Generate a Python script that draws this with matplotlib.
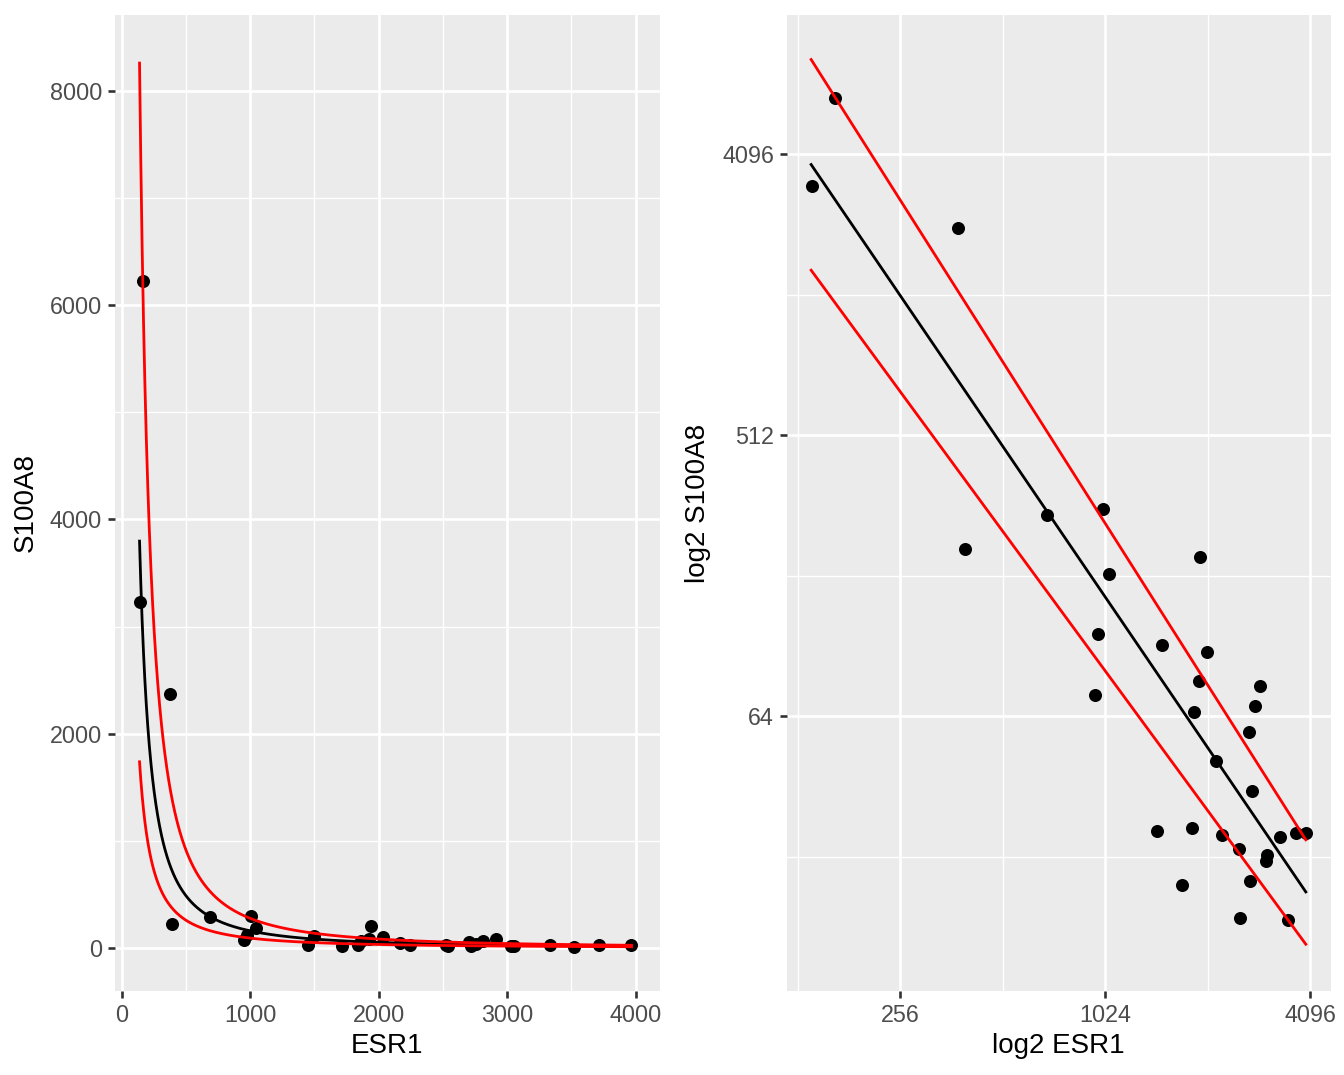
import numpy as np
import matplotlib
matplotlib.use("Agg")
import matplotlib.pyplot as plt
from matplotlib.ticker import FixedLocator, FixedFormatter, NullFormatter

plt.rcParams['font.family'] = ['Liberation Sans', 'DejaVu Sans']

# ---- data ----
esr1 = [164, 141, 377, 396, 688, 1006, 1048, 1942, 977, 1497, 2035, 1928,
        951, 1864, 2912, 2815, 2704, 2163, 2760, 1451, 1839, 2246, 2527,
        3055, 3034, 3337, 3718, 3968, 1719, 2721, 2544, 3521]
s100a8 = [6226, 3232, 2374, 221, 285, 296, 184, 209, 118, 109, 103, 83,
          75, 66, 80, 69, 57, 46, 37, 27.5, 28, 26.6, 24, 23, 22, 26.2,
          27, 27, 18.4, 18.9, 14.4, 14.2]

# power-law fits, log2(S100A8) = intercept + slope * log2(ESR1)
fit_intercept, fit_slope = 23.362, -1.609
upper_intercept, upper_slope = 25.317, -1.726
lower_intercept, lower_slope = 21.393, -1.491

x = np.array(esr1, dtype=float)
y = np.array(s100a8, dtype=float)
xs = np.geomspace(x.min() * 0.993, x.max(), 400)


def curve(a, b):
    return 2.0 ** (a + b * np.log2(xs))


fit = curve(fit_intercept, fit_slope)
upper = curve(upper_intercept, upper_slope)
lower = curve(lower_intercept, lower_slope)

W, H = 1344, 1075
fig = plt.figure(figsize=(W / 100, H / 100), dpi=100)

ax1 = fig.add_axes([114.6 / W, 1 - 991 / H, (660.4 - 114.6) / W, 976 / H])
ax2 = fig.add_axes([786.6 / W, 1 - 991 / H, (1331 - 786.6) / W, 976 / H])

TICK_SIZE = 16.8
LABEL_SIZE = 20


def style(ax):
    ax.set_facecolor('#EBEBEB')
    for s in ax.spines.values():
        s.set_visible(False)
    ax.set_axisbelow(True)
    ax.grid(which='major', color='white', lw=1.9)
    ax.grid(which='minor', color='white', lw=0.95)
    ax.tick_params(which='major', length=5, width=1.9, color='#333333',
                   labelcolor='#4D4D4D', labelsize=TICK_SIZE, pad=4)
    ax.tick_params(which='minor', length=0)


for ax in (ax1, ax2):
    ax.scatter(x, y, s=88, color='black', linewidths=0, zorder=2)
    ax.plot(xs, fit, color='black', lw=2.0, zorder=3)
    ax.plot(xs, upper, color='#FF0000', lw=2.0, zorder=3)
    ax.plot(xs, lower, color='#FF0000', lw=2.0, zorder=3)
    style(ax)

# left panel: linear axes
ax1.set_xlim(-54, 4193)
ax1.set_ylim(-401, 8707)
ax1.xaxis.set_major_locator(FixedLocator([0, 1000, 2000, 3000, 4000]))
ax1.xaxis.set_minor_locator(FixedLocator([500, 1500, 2500, 3500]))
ax1.yaxis.set_major_locator(FixedLocator([0, 2000, 4000, 6000, 8000]))
ax1.yaxis.set_minor_locator(FixedLocator([1000, 3000, 5000, 7000]))
ax1.xaxis.set_major_formatter(FixedFormatter(['0', '1000', '2000', '3000', '4000']))
ax1.yaxis.set_major_formatter(FixedFormatter(['0', '2000', '4000', '6000', '8000']))
ax1.set_xlabel('ESR1', fontsize=LABEL_SIZE, labelpad=5)
ax1.set_ylabel('S100A8', fontsize=LABEL_SIZE, labelpad=8)

# right panel: log2 axes
ax2.set_xscale('log', base=2)
ax2.set_yscale('log', base=2)
ax2.set_xlim(2 ** 6.89, 2 ** 12.2)
ax2.set_ylim(2 ** 3.07, 2 ** 13.487)
ax2.xaxis.set_major_locator(FixedLocator([256, 1024, 4096]))
ax2.xaxis.set_major_formatter(FixedFormatter(['256', '1024', '4096']))
ax2.xaxis.set_minor_locator(FixedLocator([128, 512, 2048]))
ax2.xaxis.set_minor_formatter(NullFormatter())
ax2.yaxis.set_major_locator(FixedLocator([64, 512, 4096]))
ax2.yaxis.set_major_formatter(FixedFormatter(['64', '512', '4096']))
ax2.yaxis.set_minor_locator(FixedLocator([2 ** 4.5, 2 ** 7.5, 2 ** 10.5]))
ax2.yaxis.set_minor_formatter(NullFormatter())
ax2.set_xlabel('log2 ESR1', fontsize=LABEL_SIZE, labelpad=5)
ax2.set_ylabel('log2 S100A8', fontsize=LABEL_SIZE, labelpad=8)

fig.savefig('out.png', dpi=100, facecolor='white')
